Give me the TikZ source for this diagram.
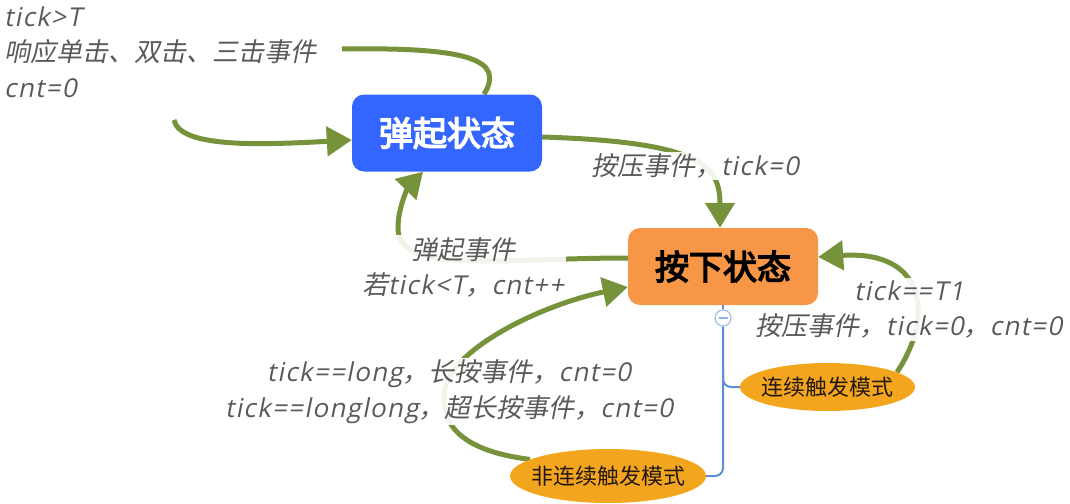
\documentclass[tikz,border=0pt]{standalone}
\usepackage{fontspec}
\setmainfont{Noto Sans CJK SC}
\newfontfamily\lblfont[FakeSlant=0.2]{Noto Sans CJK SC}
\newfontfamily\latfont[FakeSlant=0.2,LetterSpace=5]{Open Sans}
\newfontfamily\boldcjk[FakeBold=4]{Noto Sans CJK SC}
\newcommand\latn[1]{{\latfont #1}}
\usetikzlibrary{arrows.meta,shapes.geometric}
\definecolor{flowgreen}{RGB}{118,146,59}
\definecolor{upblue}{RGB}{51,102,255}
\definecolor{downorange}{RGB}{247,150,70}
\definecolor{modeorange}{RGB}{244,165,30}
\definecolor{lblgrey}{RGB}{89,89,89}
\definecolor{modetext}{RGB}{34,24,20}
\definecolor{treeblue}{RGB}{91,142,214}
\definecolor{minusblue}{RGB}{170,190,235}
\pgfdeclarelayer{arrowlayer}
\pgfdeclarelayer{labellayer}
\pgfsetlayers{arrowlayer,labellayer,main}
\tikzset{
  flowline/.style={draw=flowgreen, line width=5pt},
  flowarrow/.style={flowline, -{Triangle[length=25pt,width=29pt]}},
  lblfont/.style={font=\lblfont\fontsize{26}{35.5}\selectfont, text=lblgrey},
  lbl/.style={lblfont, align=center, fill=white, fill opacity=0.9, text opacity=1, inner sep=2pt},
  statebox/.style={rounded corners=12pt, minimum width=190pt, minimum height=77pt, inner sep=0pt, font=\boldcjk\fontsize{34}{38}\selectfont},
  modeellipse/.style={ellipse, fill=modeorange, inner xsep=-12pt, inner ysep=0pt, font=\fontsize{22}{24}\selectfont, text=modetext},
  treeline/.style={draw=treeblue, line width=2pt, rounded corners=8pt},
}
\begin{document}
\begin{tikzpicture}[x=1pt,y=-1pt]
\useasboundingbox (0,0) rectangle (1070,503);
% state boxes and mode ellipses
\node[statebox, fill=upblue, text=white] (up) at (447,133) {弹起状态};
\node[statebox, fill=downorange, text=black] (down) at (723,266.5) {按下状态};
\node[modeellipse, minimum width=175pt, minimum height=48pt] (cont) at (827.5,387) {连续触发模式};
\node[modeellipse, minimum width=196pt, minimum height=54pt] (noncont) at (608,476) {非连续触发模式};
% collapse marker and tree lines
\node[circle, draw=minusblue, fill=white, minimum size=16pt, inner sep=0pt, line width=1.3pt] (col) at (723,318) {};
\draw[minusblue!70!treeblue, line width=1.6pt] ([xshift=-4.5pt]col.center) -- ([xshift=4.5pt]col.center);
\draw[treeline] (down.south) -- (col.north);
\draw[treeline] (col.south) |- (noncont.east);
\draw[treeline] (723,370) |- (cont.west);
% free ends
\coordinate (a1start) at (342,49);
\coordinate (a2start) at (174,120);
% text block top-left
\node[lblfont, align=left, anchor=west, inner sep=0pt] (tl) at (4,52) {\latn{tick>T}\\响应单击、双击、三击事件\\\latn{cnt=0}};
\begin{pgfonlayer}{labellayer}
\node[lbl] (l1) at (695,166) {按压事件，\latn{tick=0}};
\node[lbl] (l2) at (463,267.5) {弹起事件\\若\latn{tick<T}，\latn{cnt++}};
\node[lbl] (l3) at (909,309.5) {\latn{tick==T1}\\按压事件，\latn{tick=0}，\latn{cnt=0}};
\node[lbl] (l4) at (449,391.5) {\latn{tick==long}，长按事件，\latn{cnt=0}\\\latn{tick==longlong}，超长按事件，\latn{cnt=0}};
\end{pgfonlayer}
\begin{pgfonlayer}{arrowlayer}
\draw[flowline] (a1start) .. controls (470,47) and (505,60) .. ([xshift=37pt]up.north);
\draw[flowarrow] (a2start) .. controls (180,148) and (260,145) .. ([yshift=-7pt]up.west);
\draw[flowarrow] ([yshift=-4pt]up.east) .. controls (700,142) and (720,165) .. ([xshift=-3pt]down.north);
\draw[flowarrow] ([yshift=8.5pt]down.west) .. controls (500,258) and (398,275) .. (398,228) .. controls (398,205) and (410,185) .. ([xshift=-24pt]up.south);
\draw[flowarrow] (noncont.168) .. controls (455,450) and (440,420) .. (445,390) .. controls (450,350) and (540,305) .. ([yshift=-20.5pt]down.west);
\draw[flowarrow] (cont.12) .. controls (935,315) and (925,250) .. ([yshift=9.5pt]down.east);
\end{pgfonlayer}
\end{tikzpicture}
\end{document}
